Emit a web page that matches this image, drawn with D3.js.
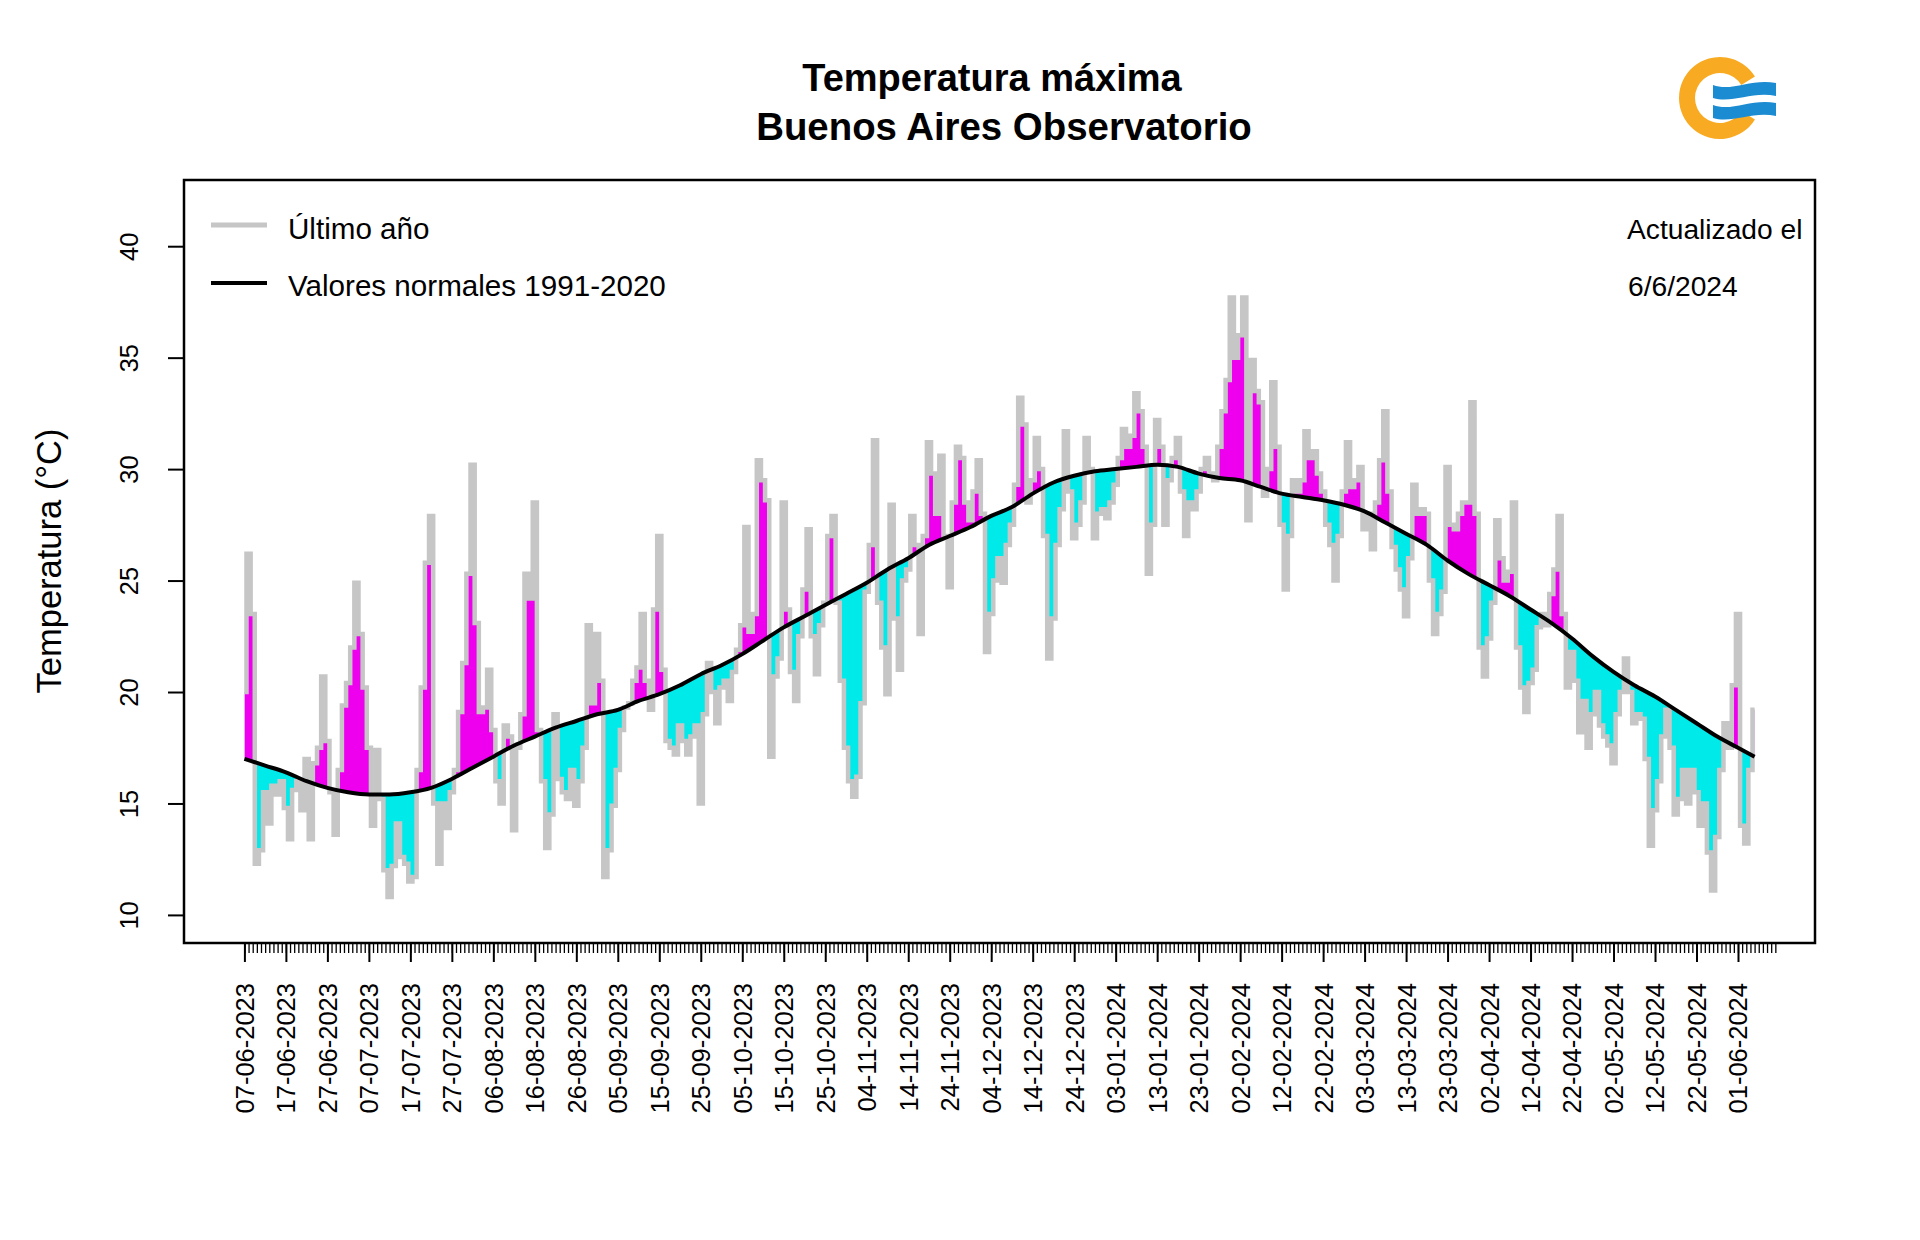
<!DOCTYPE html>
<html><head><meta charset="utf-8">
<script src="https://cdn.jsdelivr.net/npm/d3@7"></script>
<style>
body{margin:0;background:#fff;}
svg{display:block;font-family:"Liberation Sans",Arial,sans-serif;}
</style>
</head><body>
<svg id="chart" width="1920" height="1240"></svg>
<script>
// ---------------- DATA ----------------
const titleLines = ["Temperatura máxima", "Buenos Aires Observatorio"];
const legendLabels = ["Último año", "Valores normales 1991-2020"];
const updateLines = ["Actualizado el", "6/6/2024"];
const yTitle = "Temperatura (°C)";

// x tick labels, one every 10 days starting 07-06-2023
const tickLabels = ["07-06-2023","17-06-2023","27-06-2023","07-07-2023","17-07-2023","27-07-2023",
  "06-08-2023","16-08-2023","26-08-2023","05-09-2023","15-09-2023","25-09-2023","05-10-2023",
  "15-10-2023","25-10-2023","04-11-2023","14-11-2023","24-11-2023","04-12-2023","14-12-2023",
  "24-12-2023","03-01-2024","13-01-2024","23-01-2024","02-02-2024","12-02-2024","22-02-2024",
  "03-03-2024","13-03-2024","23-03-2024","02-04-2024","12-04-2024","22-04-2024","02-05-2024",
  "12-05-2024","22-05-2024","01-06-2024"];
const yTicks = [10, 15, 20, 25, 30, 35, 40];

// daily maximum temperature (°C), 07-06-2023 ... 05-06-2024
const tempMax = [
  20.0, 26.2, 23.5, 12.3, 12.9, 15.5, 14.1, 15.8, 15.4, 16.0,
  14.8, 13.4, 15.6, 16.0, 14.7, 17.0, 13.4, 16.8, 17.5, 20.7,
  17.8, 15.5, 13.6, 16.5, 19.4, 20.4, 22.0, 24.9, 22.6, 20.2,
  17.5, 14.0, 17.4, 15.2, 12.0, 10.8, 12.2, 14.1, 12.6, 12.3,
  11.5, 11.7, 16.5, 20.2, 25.8, 27.9, 15.0, 12.3, 15.0, 13.9,
  15.5, 16.5, 19.1, 21.3, 25.3, 30.2, 23.1, 19.1, 19.3, 21.0,
  18.3, 16.0, 15.0, 18.5, 18.0, 13.8, 17.5, 19.0, 25.3, 24.2,
  28.5, 18.3, 16.0, 13.0, 14.5, 19.0, 16.1, 15.5, 15.2, 16.5,
  14.9, 16.0, 17.5, 23.0, 19.5, 22.6, 20.5, 11.7, 12.9, 14.9,
  16.5, 18.3, 19.3, 19.5, 20.5, 21.1, 23.5, 20.5, 19.2, 23.7,
  27.0, 21.0, 17.8, 17.5, 17.2, 18.5, 17.8, 17.2, 18.0, 18.5,
  15.0, 19.0, 21.3, 20.0, 18.6, 20.2, 20.5, 19.6, 20.9, 21.9,
  23.0, 27.4, 22.7, 23.5, 30.4, 29.5, 28.6, 17.1, 20.7, 21.5,
  28.5, 23.7, 20.9, 19.6, 22.5, 24.6, 27.3, 22.5, 20.8, 23.0,
  24.0, 27.0, 27.9, 24.0, 20.5, 17.5, 16.0, 15.3, 16.2, 19.5,
  24.5, 26.6, 31.3, 24.0, 22.0, 19.9, 28.4, 23.3, 21.0, 25.0,
  25.5, 27.9, 26.6, 22.6, 27.0, 31.2, 29.8, 28.0, 30.6, 27.0,
  24.7, 28.5, 31.0, 30.5, 28.5, 27.7, 29.0, 30.4, 28.0, 21.8,
  23.5, 25.0, 26.0, 24.9, 26.6, 27.5, 29.3, 33.2, 32.0, 28.5,
  29.5, 31.4, 30.0, 27.0, 21.5, 23.3, 26.6, 28.2, 31.7, 29.0,
  26.9, 27.5, 28.5, 31.4, 30.0, 26.9, 28.0, 28.2, 27.8, 28.5,
  29.3, 30.5, 31.8, 31.0, 31.5, 33.4, 32.6, 31.0, 25.3, 27.5,
  32.2, 31.0, 27.5, 29.5, 30.5, 31.4, 29.0, 27.0, 28.5, 28.2,
  29.0, 30.0, 30.5, 29.8, 29.5, 31.0, 32.6, 34.0, 37.7, 35.0,
  36.0, 37.7, 27.7, 34.9, 33.5, 33.0, 28.8, 30.0, 33.9, 31.0,
  27.5, 24.6, 27.0, 29.5, 29.0, 29.5, 31.7, 30.5, 30.8, 29.8,
  29.0, 27.5, 26.6, 25.0, 27.0, 29.0, 31.2, 29.2, 29.5, 30.1,
  27.3, 28.0, 26.4, 28.5, 30.4, 32.6, 29.0, 26.5, 25.5, 24.6,
  23.4, 26.0, 29.3, 28.0, 28.2, 28.0, 25.0, 22.6, 23.5, 24.5,
  30.1, 27.5, 27.3, 28.0, 28.5, 28.5, 33.0, 28.0, 22.0, 20.7,
  22.4, 24.0, 27.7, 26.0, 25.0, 25.4, 28.5, 22.0, 20.2, 19.1,
  20.4, 21.0, 22.9, 23.5, 23.0, 24.4, 25.5, 27.9, 23.5, 20.2,
  21.8, 20.5, 18.2, 19.6, 17.5, 19.0, 20.0, 18.5, 18.0, 17.6,
  16.8, 19.0, 20.0, 21.5, 20.0, 18.6, 19.0, 18.8, 17.0, 13.1,
  14.7, 16.0, 18.0, 19.2, 17.5, 14.5, 15.2, 16.5, 15.0, 16.5,
  15.5, 14.0, 15.0, 12.8, 11.1, 13.5, 16.5, 18.6, 17.5, 20.3,
  23.5, 14.0, 13.2, 16.5, 19.2
];

// normal 1991-2020 (read every 5 days, day index from 07-06)
const normalDays = [0,5,10,15,20,25,30,35,40,45,50,55,60,65,70,75,80,85,90,95,100,105,110,115,120,
  125,130,135,140,145,150,155,160,165,170,175,180,185,190,195,200,205,210,215,220,225,230,235,240,
  245,250,255,260,265,270,275,280,285,290,295,300,305,310,315,320,325,330,335,340,345,350,355,360,364];
const normalValues = [17.0,16.7,16.4,16.0,15.7,15.5,15.4,15.4,15.5,15.7,16.1,16.6,17.1,17.6,18.0,18.4,
  18.7,19.0,19.2,19.6,19.9,20.3,20.8,21.2,21.7,22.3,22.9,23.4,23.9,24.4,24.9,25.5,26.0,26.6,27.0,27.4,
  27.9,28.3,28.9,29.4,29.7,29.9,30.0,30.1,30.2,30.1,29.8,29.6,29.5,29.2,28.9,28.75,28.6,28.4,28.1,27.6,
  27.1,26.6,25.9,25.3,24.8,24.3,23.7,23.1,22.4,21.6,20.9,20.3,19.8,19.2,18.6,18.0,17.5,17.1];

// ---------------- CHART ----------------
const svg = d3.select("#chart");
svg.append("rect").attr("width",1920).attr("height",1240).attr("fill","#fff");
const P = {left:184, right:1815, top:180, bottom:943};
const n = tempMax.length;
const pad = 0.04*(n-1);
const x = d3.scaleLinear().domain([-pad, n-1+pad]).range([P.left, P.right]);
const y = d3.scaleLinear().domain([8.74, 42.97]).range([P.bottom, P.top]);

const COL_MAG = "#ee00ee", COL_CYA = "#00eaea", COL_GRAY = "#c6c6c6";

const defs = svg.append("defs");
const normalPts = normalDays.map((d,i)=>[d, normalValues[i]]);
const curve = d3.curveMonotoneX;
const step = d3.curveStep;
defs.append("clipPath").attr("id","clipPlot").append("rect")
  .attr("x",P.left).attr("y",P.top).attr("width",P.right-P.left).attr("height",P.bottom-P.top);
defs.append("clipPath").attr("id","clipAbove").append("path")
  .attr("d", d3.area().curve(curve).x(d=>x(d[0])).y0(P.top).y1(d=>y(d[1]))(normalPts));
defs.append("clipPath").attr("id","clipBelow").append("path")
  .attr("d", d3.area().curve(curve).x(d=>x(d[0])).y0(P.bottom).y1(d=>y(d[1]))(normalPts));

const series = tempMax.map((v,i)=>[i,v]);
const g = svg.append("g").attr("clip-path","url(#clipPlot)");
g.append("g").attr("clip-path","url(#clipAbove)").append("path")
  .attr("d", d3.area().curve(step).x(d=>x(d[0])).y0(P.bottom).y1(d=>y(d[1]))(series))
  .attr("fill", COL_MAG);
g.append("g").attr("clip-path","url(#clipBelow)").append("path")
  .attr("d", d3.area().curve(step).x(d=>x(d[0])).y0(P.top).y1(d=>y(d[1]))(series))
  .attr("fill", COL_CYA);
g.append("path")
  .attr("d", d3.line().curve(step).x(d=>x(d[0])).y(d=>y(d[1]))(series))
  .attr("fill","none").attr("stroke",COL_GRAY).attr("stroke-width",4.5)
  .attr("stroke-linejoin","miter").attr("stroke-linecap","butt");
g.append("path")
  .attr("d", d3.line().curve(curve).x(d=>x(d[0])).y(d=>y(d[1]))(normalPts))
  .attr("fill","none").attr("stroke","#000").attr("stroke-width",4);

// box
svg.append("rect").attr("x",P.left).attr("y",P.top).attr("width",P.right-P.left)
  .attr("height",P.bottom-P.top).attr("fill","none").attr("stroke","#000").attr("stroke-width",2.5);

// x axis: daily minor ticks, labelled every 10 days
const minorDays = d3.range(0, n+5);
const gxMinor = svg.append("g").attr("transform",`translate(0,${P.bottom})`)
  .call(d3.axisBottom(x).tickValues(minorDays).tickSize(10).tickSizeOuter(0).tickFormat(""));
gxMinor.select(".domain").remove();
gxMinor.selectAll("line").attr("stroke","#000").attr("stroke-width",1.3);
svg.append("line").attr("x1",x(0)).attr("x2",x(minorDays[minorDays.length-1]))
  .attr("y1",P.bottom).attr("y2",P.bottom).attr("stroke","#000").attr("stroke-width",2);

const majorDays = tickLabels.map((d,i)=>i*10);
const gx = svg.append("g").attr("transform",`translate(0,${P.bottom})`)
  .call(d3.axisBottom(x).tickValues(majorDays).tickSize(19).tickSizeOuter(0)
    .tickFormat((d,i)=>tickLabels[i]));
gx.select(".domain").remove();
gx.selectAll("line").attr("stroke","#000").attr("stroke-width",2);
gx.selectAll("text")
  .attr("transform","rotate(-90)").attr("x",-40).attr("y",0).attr("dy","0.35em")
  .attr("text-anchor","end").attr("fill","#000")
  .style("font-size","25.5px").style("font-family","'Liberation Sans',Arial,sans-serif");

// y axis
const gy = svg.append("g").attr("transform",`translate(${P.left},0)`)
  .call(d3.axisLeft(y).tickValues(yTicks).tickSize(16).tickSizeOuter(0));
gy.select(".domain").remove();
svg.append("line").attr("x1",P.left).attr("x2",P.left).attr("y1",y(10)).attr("y2",y(40))
  .attr("stroke","#000").attr("stroke-width",2);
gy.selectAll("line").attr("stroke","#000").attr("stroke-width",2);
gy.selectAll("text")
  .attr("transform","rotate(-90)").attr("x",0).attr("y",-55).attr("dy","0.35em")
  .attr("text-anchor","middle").attr("fill","#000")
  .style("font-size","25.5px").style("font-family","'Liberation Sans',Arial,sans-serif");

svg.append("text").attr("transform","translate(49,561) rotate(-90)").attr("dy","0.35em")
  .attr("text-anchor","middle").style("font-size","34.5px").text(yTitle);

// titles
svg.append("text").attr("x",992).attr("y",91).attr("text-anchor","middle")
  .style("font-size","38px").style("font-weight","bold").text(titleLines[0]);
svg.append("text").attr("x",1004).attr("y",140).attr("text-anchor","middle")
  .style("font-size","38.4px").style("font-weight","bold").text(titleLines[1]);

// legend
const legend = [{c:COL_GRAY, w:5, y:225, ty:239}, {c:"#000", w:4, y:283, ty:296}];
legend.forEach((L,i)=>{
  svg.append("line").attr("x1",211).attr("x2",267).attr("y1",L.y).attr("y2",L.y)
    .attr("stroke",L.c).attr("stroke-width",L.w);
  svg.append("text").attr("x",288).attr("y",L.ty).style("font-size","29.6px").text(legendLabels[i]);
});
svg.append("text").attr("x",1627).attr("y",239).style("font-size","28.2px").text(updateLines[0]);
svg.append("text").attr("x",1628).attr("y",296).style("font-size","28.2px").text(updateLines[1]);

// logo
const logo = svg.append("g").attr("transform","translate(1720,98)");
logo.append("path").attr("d", d3.arc().innerRadius(25).outerRadius(41)
  .startAngle(Math.PI/2+0.55).endAngle(Math.PI/2+2*Math.PI-0.55)()).attr("fill","#f8ab22");
const wave = (dy)=>`M-7,${-13+dy} C12,${-6+dy} 32,${-20+dy} 56,${-15+dy} L56,${-2+dy} C32,${-7+dy} 12,${6+dy} -7,${0+dy} Z`;
logo.append("path").attr("d", wave(0)).attr("fill","#1b8bd2");
logo.append("path").attr("d", wave(20)).attr("fill","#1b8bd2");
</script>
</body></html>
